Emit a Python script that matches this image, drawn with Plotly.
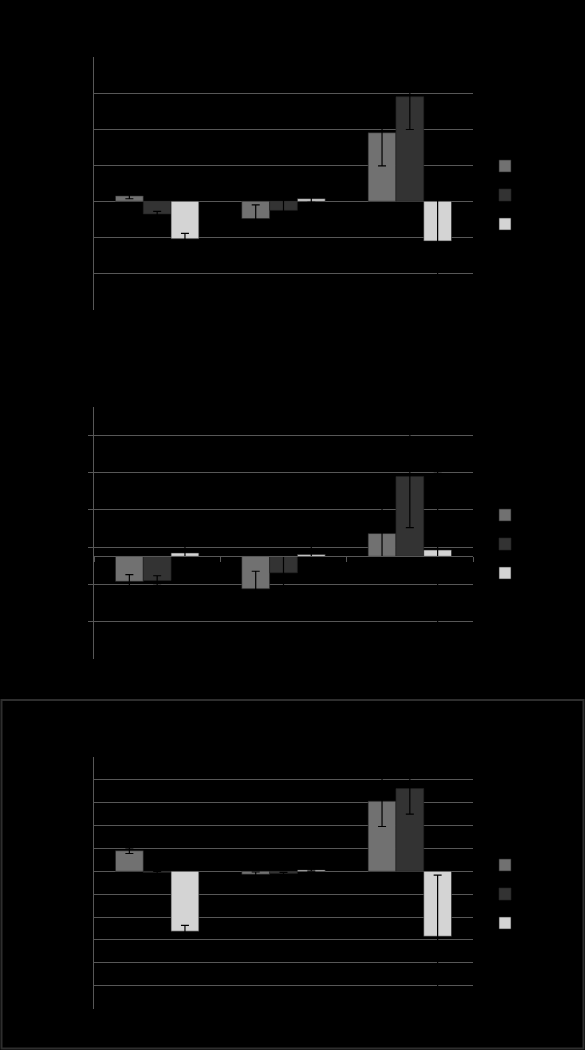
import plotly.graph_objects as go

# category and series names (all text is black on black in the reference)
categories = ["Group 1", "Group 2", "Group 3"]
series_names = ["Series 1", "Series 2", "Series 3"]
series_colors = ["#717171", "#333333", "#d4d4d4"]

# panel 1
p1_s1 = [0.15, -0.48, 1.90]
p1_s1_err = [0.08, 0.38, 0.92]
p1_s2 = [-0.35, -0.25, 2.90]
p1_s2_err = [0.07, 0.30, 0.91]
p1_s3 = [-1.04, 0.07, -1.10]
p1_s3_err = [0.15, 0.10, 1.50]

# panel 2
p2_s1 = [-0.67, -0.87, 0.61]
p2_s1_err = [0.18, 0.47, 1.00]
p2_s2 = [-0.65, -0.44, 2.14]
p2_s2_err = [0.13, 0.50, 1.37]
p2_s3 = [0.09, 0.05, 0.17]
p2_s3_err = [0.30, 0.30, 2.10]

# panel 3
p3_s1 = [0.90, -0.13, 3.07]
p3_s1_err = [0.12, 0.10, 1.11]
p3_s2 = [-0.05, -0.10, 3.62]
p3_s2_err = [0.05, 0.05, 1.12]
p3_s3 = [-2.62, 0.06, -2.84]
p3_s3_err = [0.26, 0.05, 2.67]

# y axis ranges and gridline values
p1_range = [-3, 4]
p1_grid = [-2, -1, 0, 1, 2, 3]
p2_range = [-2.75, 4]
p2_grid = [-1.75, -0.75, 0.25, 1.25, 2.25, 3.25]
p3_range = [-6, 5]
p3_grid = [-5, -4, -3, -2, -1, 0, 1, 2, 3, 4]

W, H = 585, 1050
GRID = "#575757"
FONT = dict(family="Liberation Sans, Arial, sans-serif", size=12, color="black")


def px_y(top_px):
    return (H - top_px) / H


panels = [
    dict(series=[(p1_s1, p1_s1_err), (p1_s2, p1_s2_err), (p1_s3, p1_s3_err)],
         rng=p1_range, grid=p1_grid, top=57, bottom=309.5, legend_top=151.5),
    dict(series=[(p2_s1, p2_s1_err), (p2_s2, p2_s2_err), (p2_s3, p2_s3_err)],
         rng=p2_range, grid=p2_grid, top=407, bottom=659, legend_top=500.5),
    dict(series=[(p3_s1, p3_s1_err), (p3_s2, p3_s2_err), (p3_s3, p3_s3_err)],
         rng=p3_range, grid=p3_grid, top=757, bottom=1008.5, legend_top=850.5),
]

fig = go.Figure()
x_dom = [94 / W, 473 / W]

for i, p in enumerate(panels):
    n = "" if i == 0 else str(i + 1)
    leg = "legend" + n
    for j, (vals, errs) in enumerate(p["series"]):
        fig.add_trace(go.Bar(
            x=categories, y=vals, name=series_names[j],
            marker=dict(color=series_colors[j], line=dict(width=0.6, color="#222222")),
            error_y=dict(type="data", array=errs, visible=True,
                         color="black", thickness=1.2, width=4),
            xaxis="x" + n, yaxis="y" + n, legend=leg,
            legendgroup=f"{i}-{j}",
        ))

    y_dom = [px_y(p["bottom"]), px_y(p["top"])]

    xa = dict(domain=x_dom, type="category", anchor="y" + n,
              showline=False, ticks="", showgrid=False,
              tickfont=FONT, range=[-0.5, 2.5])
    ya = dict(domain=y_dom, anchor="x" + n, range=p["rng"],
              tickmode="array", tickvals=p["grid"],
              showgrid=True, gridcolor=GRID, gridwidth=1,
              zeroline=True, zerolinecolor=GRID, zerolinewidth=1,
              showline=True, linecolor=GRID, linewidth=1,
              ticks="outside" if i == 1 else "", ticklen=5, tickcolor=GRID,
              tickfont=FONT)
    fig.update_layout({"xaxis" + n: xa, "yaxis" + n: ya})
    fig.update_layout({leg: dict(x=485 / W, y=px_y(p["legend_top"]),
                                 xanchor="left", yanchor="top",
                                 bgcolor="rgba(0,0,0,0)", font=FONT,
                                 traceorder="grouped", tracegroupgap=10)})

# second panel: horizontal axis line at zero with ticks on category boundaries
ymin, ymax = p2_range
d0, d1 = px_y(panels[1]["bottom"]), px_y(panels[1]["top"])
zero_pos = d0 + (0 - ymin) / (ymax - ymin) * (d1 - d0)
fig.update_layout(xaxis4=dict(
    domain=x_dom, type="category", overlaying="x2", anchor="free",
    position=zero_pos, categoryarray=categories, range=[-0.5, 2.5],
    showline=True, linecolor=GRID, linewidth=1,
    tickson="boundaries", ticks="outside", ticklen=5, tickcolor=GRID,
    showticklabels=False, showgrid=False,
))
fig.add_trace(go.Scatter(x=categories, y=[None] * 3, xaxis="x4", yaxis="y2",
                         showlegend=False, hoverinfo="skip"))

# border round the third panel
fig.add_shape(type="rect", xref="paper", yref="paper",
              x0=1.5 / W, x1=583.5 / W, y0=px_y(1048.5), y1=px_y(700),
              line=dict(color="#2e2e2e", width=2))

fig.update_layout(
    width=W, height=H,
    margin=dict(l=0, r=0, t=0, b=0),
    paper_bgcolor="black", plot_bgcolor="black",
    barmode="group", bargap=0.34, bargroupgap=0,
    font=FONT, showlegend=True,
)

fig.write_html("out.html", config={"displayModeBar": False},
               post_script="document.body.style.margin='0';"
                           "document.body.style.background='black';")
